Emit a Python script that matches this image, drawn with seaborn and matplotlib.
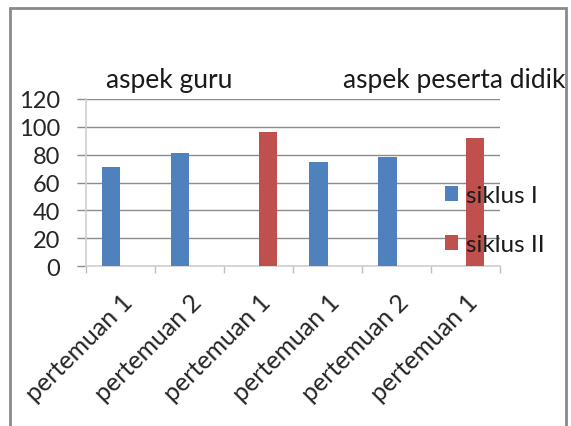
import pandas as pd
import seaborn as sns
import matplotlib.pyplot as plt
import matplotlib.transforms as mtransforms
from matplotlib.patches import Rectangle

# data
categories = ['guru_p1', 'guru_p2', 'guru_p1_II', 'pd_p1', 'pd_p2', 'pd_p1_II']
tick_labels = ['pertemuan 1', 'pertemuan 2', 'pertemuan 1',
               'pertemuan 1', 'pertemuan 2', 'pertemuan 1']
siklus_1 = [71, 81, None, 75, 78, None]
siklus_2 = [None, None, 96, None, None, 92]
series = ['siklus I', 'siklus II']
group_titles = ['aspek guru', 'aspek peserta didik']
y_ticks = [0, 20, 40, 60, 80, 100, 120]

rows = []
for name, vals in zip(series, [siklus_1, siklus_2]):
    for cat, v in zip(categories, vals):
        if v is not None:
            rows.append({'kategori': cat, 'nilai': v, 'siklus': name})
df = pd.DataFrame(rows)

sns.set_style('white')
plt.rcParams['font.family'] = ['Lato', 'DejaVu Sans']
plt.rcParams['text.color'] = '#1a1a1a'

fig = plt.figure(figsize=(5.71, 4.27), dpi=100)
ax = fig.add_axes([86 / 571, 1 - 267 / 427, (500 - 86) / 571, (267 - 100) / 427])

sns.barplot(data=df, x='kategori', y='nilai', hue='siklus', order=categories,
            hue_order=series, palette=['#4F81BD', '#C0504D'], width=0.55,
            dodge=True, saturation=1, linewidth=0, ax=ax, zorder=3)

ax.set_ylim(0, 120)
ax.set_xlim(-0.5, len(categories) - 0.5)
ax.set_yticks(y_ticks)
ax.set_xticks(range(len(categories)))
ax.set_xticklabels(tick_labels, rotation=45, ha='right', va='top',
                   rotation_mode='anchor', fontsize=18)
# nudge the slanted labels a little to the left
shift = mtransforms.ScaledTranslation(-0.07, 0, fig.dpi_scale_trans)
for lbl in ax.get_xticklabels():
    lbl.set_transform(lbl.get_transform() + shift)
ax.set_xticks([i - 0.5 for i in range(len(categories) + 1)], minor=True)
ax.set_xlabel('')
ax.set_ylabel('')

ax.grid(axis='y', color='#8c8c8c', linewidth=1, zorder=0)
ax.tick_params(axis='y', length=6.5, width=1, color='#8c8c8c', pad=12,
               labelsize=17, left=True)
ax.tick_params(axis='x', which='major', length=0, pad=17)
ax.tick_params(axis='x', which='minor', length=5, width=1, color='#bfbfbf',
               bottom=True)
for side in ['top', 'right']:
    ax.spines[side].set_visible(False)
for side in ['left', 'bottom']:
    ax.spines[side].set_color('#d0d0d0')
    ax.spines[side].set_linewidth(1.2)
ax.spines['left'].set_zorder(4)

sns.move_legend(ax, 'center left', bbox_to_anchor=((445 - 86) / 414, (267 - 221) / 167),
                frameon=False, title=None, fontsize=17.5, borderpad=0, borderaxespad=0,
                handlelength=0.55, handleheight=0.55, handletextpad=0.3,
                labelspacing=1.15)
for h in ax.get_legend().legend_handles:
    h.set_edgecolor('none')

fig.text(106 / 571, 1 - 88 / 427, group_titles[0], fontsize=19, va='baseline', ha='left')
fig.text(343 / 571, 1 - 88 / 427, group_titles[1], fontsize=19, va='baseline', ha='left')

fig.patches.append(Rectangle((10 / 571, -0.1), (566 - 10) / 571, 1.1 - 9 / 427,
                             transform=fig.transFigure, fill=False,
                             edgecolor='#8a8a8a', linewidth=2))

fig.savefig('out.png', dpi=100)
